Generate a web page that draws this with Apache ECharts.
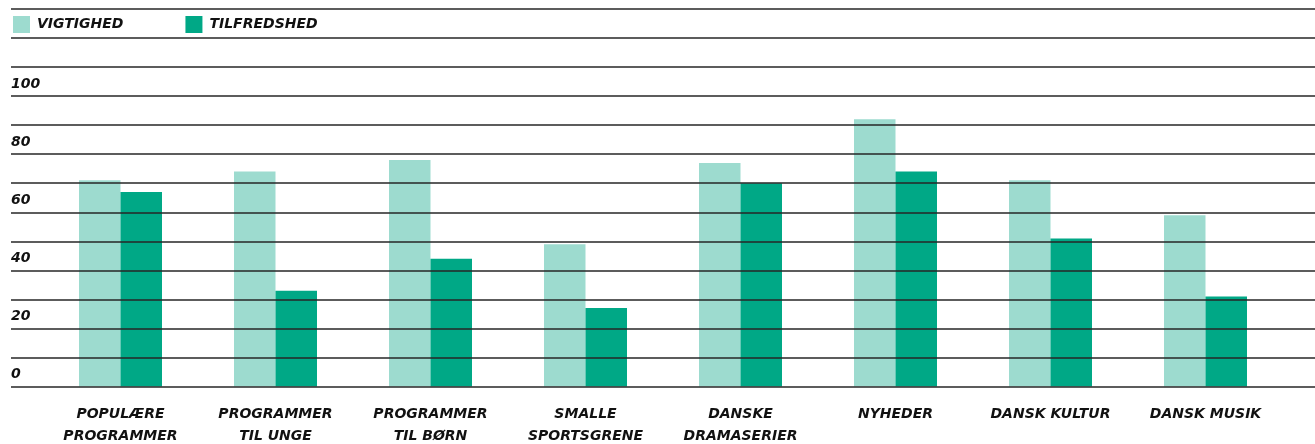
<!DOCTYPE html>
<html>
<head>
<meta charset="utf-8">
<script src="https://cdn.jsdelivr.net/npm/echarts@6/dist/echarts.min.js"></script>
<style>
html,body{margin:0;padding:0;background:#fff;}
#chart{width:1315px;height:444px;}
</style>
</head>
<body>
<div id="chart"></div>
<script>
const categories = ['POPULÆRE\nPROGRAMMER','PROGRAMMER\nTIL UNGE','PROGRAMMER\nTIL BØRN','SMALLE\nSPORTSGRENE','DANSKE\nDRAMASERIER','NYHEDER','DANSK KULTUR','DANSK MUSIK'];
const seriesNames = ['VIGTIGHED','TILFREDSHED'];
const vigtighed = [71, 74, 78, 49, 77, 92, 71, 59];
const tilfredshed = [67, 33, 44, 27, 70, 74, 51, 31];
const yTickLabels = [0, 20, 40, 60, 80, 100];

const FONT = 'DejaVu Sans';
const chart = echarts.init(document.getElementById('chart'));
const gridTop = 9, gridBottom = 57.5;
chart.setOption({
  animation: false,
  legend: {
    left: 13, top: 16, padding: 0, itemWidth: 17, itemHeight: 17, itemGap: 62,
    icon: 'rect',
    data: seriesNames,
    textStyle: {fontFamily: FONT, fontSize: 14, fontWeight: 'bold', fontStyle: 'italic', color: '#111', padding: [0,0,0,2]}
  },
  grid: [
    {left: 11, right: 0, top: gridTop, bottom: gridBottom, outerBoundsMode: 'none', containLabel: false},
    {left: 43, width: 1240, top: gridTop, bottom: gridBottom, outerBoundsMode: 'none', containLabel: false}
  ],
  xAxis: [
    {gridIndex: 0, type: 'category', data: categories, show: false},
    {gridIndex: 1, type: 'category', data: categories,
      axisLine: {show: false}, axisTick: {show: false},
      axisLabel: {interval: 0, margin: 17, fontFamily: FONT, fontSize: 14, fontWeight: 'bold', fontStyle: 'italic', color: '#111', lineHeight: 22, align: 'center'}
    }
  ],
  yAxis: [
    {gridIndex: 0, type: 'value', min: 0, max: 130, interval: 10, z: 5,
      axisLine: {show: false}, axisTick: {show: false},
      splitLine: {show: true, lineStyle: {color: '#262626', width: 1.5}},
      axisLabel: {inside: true, margin: 0, align: 'left', verticalAlign: 'bottom', padding: [0,0,5,0],
        fontFamily: FONT, fontSize: 14, fontWeight: 'bold', fontStyle: 'italic', color: '#111',
        formatter: function (v) { return yTickLabels.indexOf(v) >= 0 ? String(v) : ''; }
      }
    },
    {gridIndex: 1, type: 'value', min: 0, max: 130, interval: 10, show: false}
  ],
  series: [
    {name: seriesNames[0], type: 'bar', xAxisIndex: 1, yAxisIndex: 1, data: vigtighed, barWidth: 41.5, barGap: '0%', itemStyle: {color: '#9DDBCF'}},
    {name: seriesNames[1], type: 'bar', xAxisIndex: 1, yAxisIndex: 1, data: tilfredshed, barWidth: 41.5, barGap: '0%', itemStyle: {color: '#00A886'}}
  ]
});
</script>
</body>
</html>
